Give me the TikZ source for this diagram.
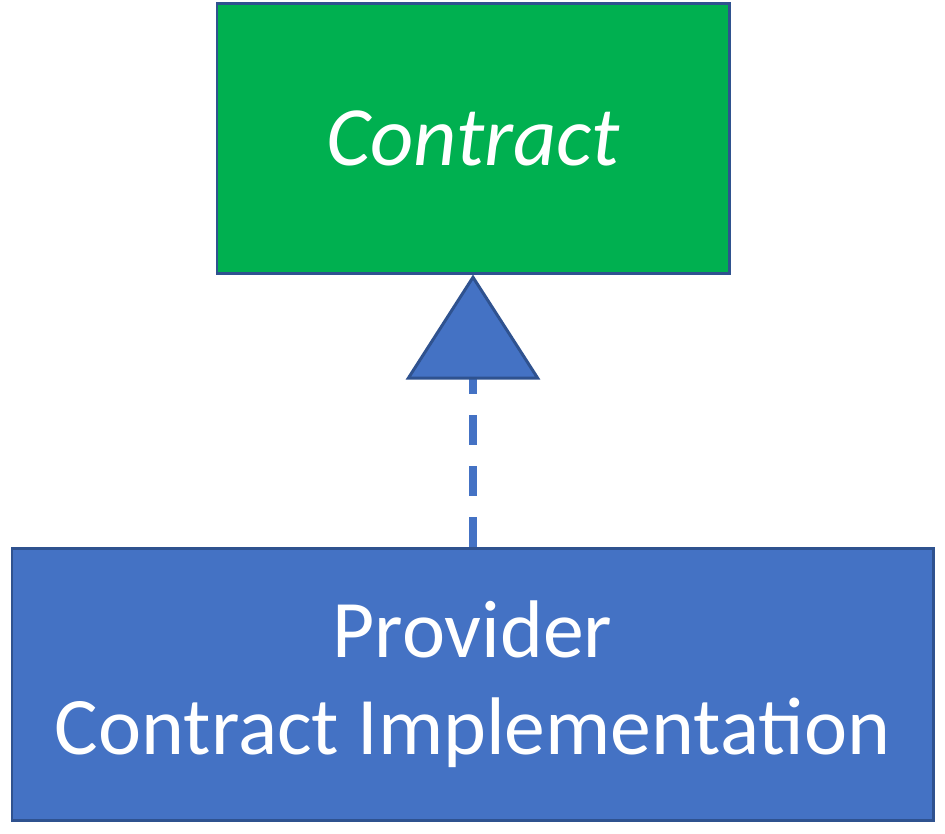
\documentclass[tikz,border=0pt]{standalone}
\usepackage{fontspec}
\setmainfont{Carlito}
\usetikzlibrary{arrows.meta}
\definecolor{boxgreen}{HTML}{00B050}
\definecolor{boxblue}{HTML}{4472C4}
\definecolor{edgeblue}{HTML}{2F528F}
\tikzset{
  umlbox/.style={draw=edgeblue, line width=1.7pt, text=white, inner sep=0pt},
}
\begin{document}
\begin{tikzpicture}[x=0.02cm,y=-0.02cm]
        \useasboundingbox (0,0) rectangle (945,833);
        \node[umlbox, fill=boxgreen, minimum width=512*0.02cm, minimum height=270*0.02cm,
              font=\fontsize{48}{55}\selectfont\itshape] (contract) at (473,138) {Contract};
        \node[umlbox, fill=boxblue, minimum width=921*0.02cm, minimum height=272*0.02cm,
              align=center, font=\fontsize{46.5}{55}\selectfont] (impl) at (472.5,684)
              {Provider\\Contract Implementation};
        \draw[boxblue, line width=4pt, dash pattern=on 17pt off 12pt,
              -{Triangle[length=105*0.02cm, width=134*0.02cm, fill=boxblue, color=edgeblue, line width=1.7pt]}]
              (impl.north -| contract.south) -- (contract.south);
    \end{tikzpicture}
\end{document}
